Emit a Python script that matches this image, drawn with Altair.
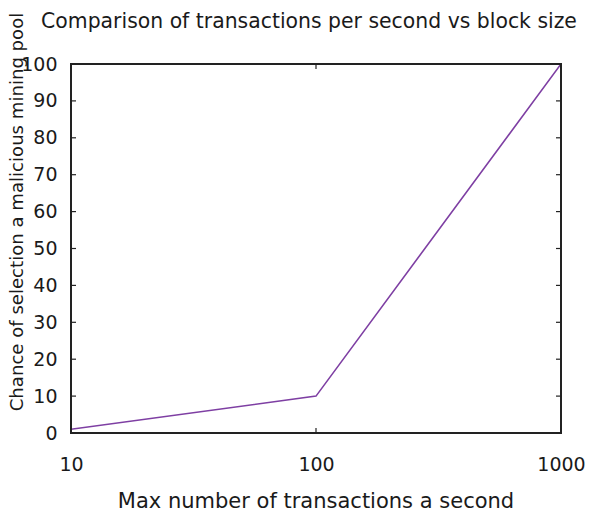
import altair as alt
import pandas as pd

tps = [10, 100, 1000]
chance = [1, 10, 100]
y_ticks = [0, 10, 20, 30, 40, 50, 60, 70, 80, 90, 100]
x_ticks = [10, 100, 1000]
title_text = "Comparison of transactions per second vs block size"
x_title = "Max number of transactions a second"
y_title = "Chance of selection a malicious mining pool"

W, H = 490, 369
FONT = "DejaVu Sans"
INK = "#1a1a1a"
df = pd.DataFrame({"tps": tps, "chance": chance})
yt = pd.DataFrame({"v": y_ticks})
xt = pd.DataFrame({"v": x_ticks})
one = pd.DataFrame({"a": [0]})

xscale = alt.Scale(type="log", domain=[10, 1000], nice=False)
yscale = alt.Scale(domain=[0, 100], nice=False)

x_axis = alt.Axis(values=x_ticks, format="d", tickSize=0, domain=False, grid=False,
                  labelFont=FONT, labelFontSize=19, labelColor=INK,
                  labelFlush=False, labelOverlap=False, labelPadding=22, title=None)
y_axis = alt.Axis(values=y_ticks, tickSize=0, domain=False, grid=False,
                  labelFont=FONT, labelFontSize=19, labelColor=INK,
                  labelFlush=False, labelOverlap=False, labelPadding=14, title=None)

line = alt.Chart(df).mark_line(color="#7e3fa3", strokeWidth=1.6, clip=True).encode(
    x=alt.X("tps:Q", scale=xscale, axis=x_axis),
    y=alt.Y("chance:Q", scale=yscale, axis=y_axis),
)

border = alt.Chart(one).mark_rect(filled=False, stroke="#222", strokeWidth=2).encode(
    x=alt.value(0), x2=alt.value(W), y=alt.value(0), y2=alt.value(H))

ytl = alt.Chart(yt).mark_rule(color="#222", strokeWidth=1.2).encode(
    y=alt.Y("v:Q", scale=yscale, axis=y_axis), x=alt.value(0), x2=alt.value(5))
ytr = alt.Chart(yt).mark_rule(color="#222", strokeWidth=1.2).encode(
    y=alt.Y("v:Q", scale=yscale, axis=y_axis), x=alt.value(W - 5), x2=alt.value(W))
xtb = alt.Chart(xt).mark_rule(color="#222", strokeWidth=1.2).encode(
    x=alt.X("v:Q", scale=xscale, axis=x_axis), y=alt.value(H - 5), y2=alt.value(H))
xtt = alt.Chart(xt).mark_rule(color="#222", strokeWidth=1.2).encode(
    x=alt.X("v:Q", scale=xscale, axis=x_axis), y=alt.value(0), y2=alt.value(5))

t_main = alt.Chart(one).mark_text(font=FONT, fontSize=20.4, color=INK, align="center",
                                  baseline="middle").encode(
    x=alt.value(W / 2 - 7), y=alt.value(-42), text=alt.value(title_text))
t_x = alt.Chart(one).mark_text(font=FONT, fontSize=21, color=INK, align="center",
                               baseline="middle").encode(
    x=alt.value(W / 2), y=alt.value(H + 69), text=alt.value(x_title))
t_y = alt.Chart(one).mark_text(font=FONT, fontSize=18.1, color=INK, align="center",
                               baseline="middle", angle=270).encode(
    x=alt.value(-53), y=alt.value(148), text=alt.value(y_title))

chart = alt.layer(line, border, ytl, ytr, xtb, xtt, t_main, t_x, t_y).properties(
    width=W, height=H,
    autosize=alt.AutoSizeParams(type="none"),
    padding={"left": 63, "top": 56, "right": 24, "bottom": 80},
).configure_view(strokeWidth=0).configure(background="white")

chart.save("out.html", embed_options={"renderer": "svg", "actions": False})
